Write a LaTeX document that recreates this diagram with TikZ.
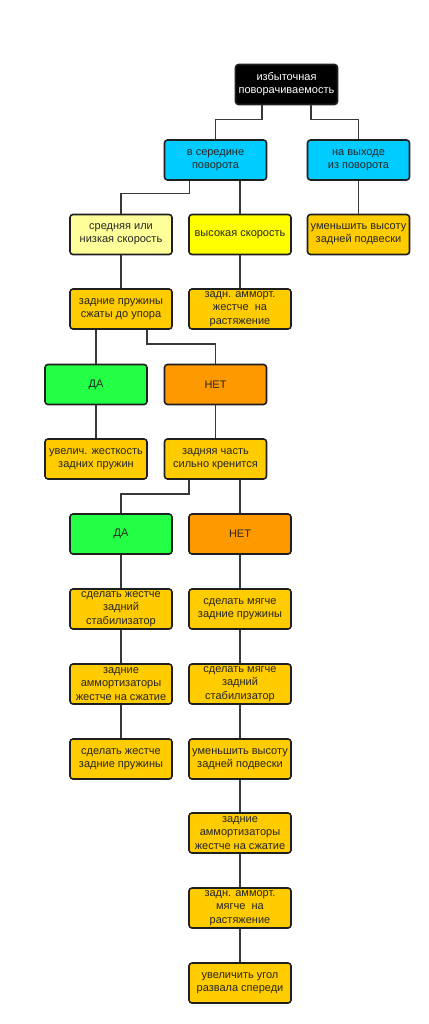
\documentclass[tikz,border=0pt]{standalone}
\usepackage{fontspec}
\setmainfont{Liberation Sans}
\begin{document}
\begin{tikzpicture}[x=1pt,y=-1pt,
  box/.style={draw=black!88, line width=1.6pt, rounded corners=3pt, minimum width=102pt, minimum height=40pt,
    inner sep=0pt, align=center, font=\fontsize{11}{13.2}\selectfont, text=black!85},
  blk/.style={box, fill=black, text=white},
  cy/.style={box, fill={rgb,255:red,0;green,204;blue,255}},
  ly/.style={box, fill={rgb,255:red,255;green,255;blue,153}},
  yl/.style={box, fill={rgb,255:red,255;green,255;blue,0}},
  gd/.style={box, fill={rgb,255:red,255;green,204;blue,0}},
  gr/.style={box, fill={rgb,255:red,34;green,255;blue,68}},
  or/.style={box, fill={rgb,255:red,255;green,153;blue,0}},
  con/.style={draw=black!78, line width=1.4pt}]
\useasboundingbox (0,0) rectangle (428,1024);
\node[blk] (top) at (286.5,84.5) {избыточная\\поворачиваемость};
\node[cy] (A1) at (215.5,160) {в середине\\поворота};
\node[cy] (A2) at (358.5,160) {на выходе\\из поворота};
\node[ly] (B1) at (121,234.5) {средняя или\\низкая скорость};
\node[yl] (B2) at (240,234.5) {высокая скорость};
\node[gd] (B3) at (358.5,234.5) {уменьшить высоту\\задней подвески};
\node[gd] (C1) at (121,309) {задние пружины\\сжаты до упора};
\node[gd] (C2) at (240,309) {задн. амморт.\\жестче\ \ на\\растяжение};
\node[gr] (D1) at (96,384.5) {ДА};
\node[or] (D2) at (215.5,384.5) {НЕТ};
\node[gd] (E1) at (96,459) {увелич. жесткость\\задних пружин};
\node[gd] (E2) at (215.5,459) {задняя часть\\сильно кренится};
\node[gr] (F1) at (121,534) {ДА};
\node[or] (F2) at (240,534) {НЕТ};
\node[gd] (G1) at (121,609) {сделать жестче\\задний\\стабилизатор};
\node[gd] (G2) at (240,609) {сделать мягче\\задние пружины};
\node[gd] (H1) at (121,684) {задние\\аммортизаторы\\жестче на сжатие};
\node[gd] (H2) at (240,684) {сделать мягче\\задний\\стабилизатор};
\node[gd] (I1) at (121,759) {сделать жестче\\задние пружины};
\node[gd] (I2) at (240,759) {уменьшить высоту\\задней подвески};
\node[gd] (J2) at (240,833) {задние\\аммортизаторы\\жестче на сжатие};
\node[gd] (K2) at (240,908) {задн. амморт.\\мягче\ \ на\\растяжение};
\node[gd] (L2) at (240,983) {увеличить угол\\развала спереди};
% connectors
\path[con] ([xshift=-24.5pt]top.south) -- ++(0,-14pt) -| (A1.north);
\path[con] ([xshift=24.5pt]top.south) -- ++(0,-14pt) -| (A2.north);
\path[con] ([xshift=-26pt]A1.south) -- ++(0,-13pt) -| (B1.north);
\path[con] (A1.south -| B2.north) -- (B2.north);
\path[con] (A2.south) -- (B3.north);
\path[con] (B1.south) -- (C1.north);
\path[con] (B2.south) -- (C2.north);
\path[con] (C1.south -| D1.north) -- (D1.north);
\path[con] ([xshift=26pt]C1.south) -- ++(0,-14pt) -| (D2.north);
\path[con] (D1.south) -- (E1.north);
\path[con] (D2.south) -- (E2.north);
\path[con] ([xshift=-26.5pt]E2.south) -- ++(0,-14pt) -| (F1.north);
\path[con] (E2.south -| F2.north) -- (F2.north);
\path[con] (F1.south) -- (G1.north);
\path[con] (F2.south) -- (G2.north);
\path[con] (G1.south) -- (H1.north);
\path[con] (G2.south) -- (H2.north);
\path[con] (H1.south) -- (I1.north);
\path[con] (H2.south) -- (I2.north);
\path[con] (I2.south) -- (J2.north);
\path[con] (J2.south) -- (K2.north);
\path[con] (K2.south) -- (L2.north);
\end{tikzpicture}
\end{document}
